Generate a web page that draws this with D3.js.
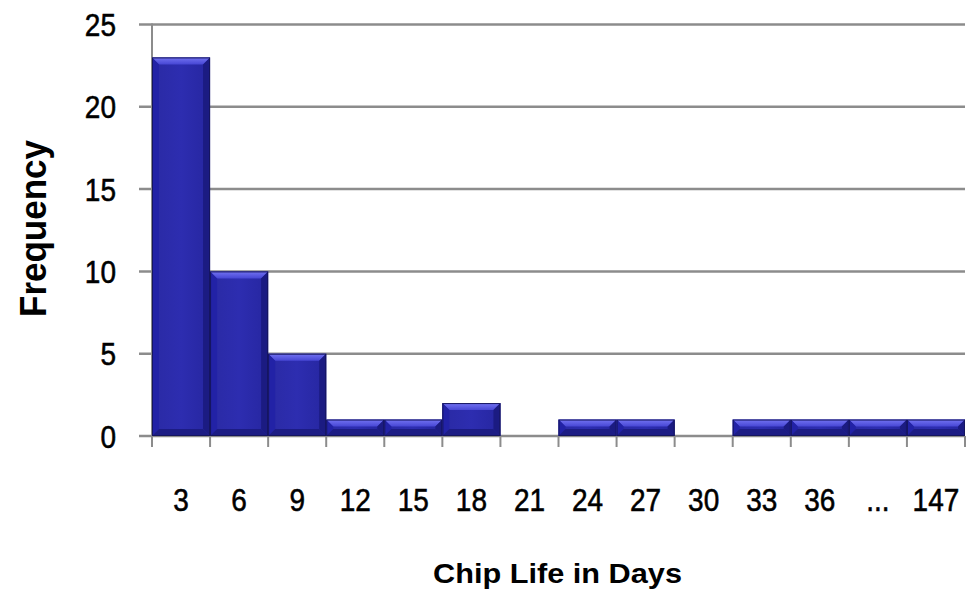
<!DOCTYPE html>
<html><head><meta charset="utf-8">
<script src="https://cdn.jsdelivr.net/npm/d3@7"></script>
<style>body{margin:0;background:#fff}svg{display:block}</style>
</head><body>
<svg id="c" width="969" height="593"></svg>
<script>
const categories = ["3","6","9","12","15","18","21","24","27","30","33","36","...","147"];
const frequency = [23,10,5,1,1,2,0,1,1,0,1,1,1,1];
const yTicks = [0,5,10,15,20,25];

const svg = d3.select("#c");
const m = {l:152, r:965, t:24.5, b:436};
const x = d3.scaleBand().domain(categories).range([m.l, m.r]).padding(0);
const y = d3.scaleLinear().domain([0,25]).range([m.b, m.t]);
const FONT = "Liberation Sans, Arial, sans-serif";

const defs = svg.append("defs");
const g1 = defs.append("linearGradient").attr("id","topb").attr("x1",0).attr("y1",0).attr("x2",0).attr("y2",1);
g1.append("stop").attr("offset","0%").attr("stop-color","#7474f2");
g1.append("stop").attr("offset","100%").attr("stop-color","#4646d4");
const gb = defs.append("linearGradient").attr("id","body").attr("x1",0).attr("y1",0).attr("x2",1).attr("y2",0);
gb.append("stop").attr("offset","0%").attr("stop-color","#2a2aa4");
gb.append("stop").attr("offset","50%").attr("stop-color","#2d2db0");
gb.append("stop").attr("offset","100%").attr("stop-color","#2626a0");

// gridlines
svg.append("g").selectAll("line").data(yTicks).join("line")
  .attr("x1", 139).attr("x2", m.r).attr("y1", d=>y(d)).attr("y2", d=>y(d))
  .attr("stroke","#8c8c8c").attr("stroke-width",2.5);
// y axis line
svg.append("line").attr("x1",m.l).attr("x2",m.l).attr("y1",m.t-1).attr("y2",m.b+11)
  .attr("stroke","#8c8c8c").attr("stroke-width",2);
// x ticks
const tickPos = categories.map(c=>x(c)).concat([m.r]);
svg.append("g").selectAll("line").data(tickPos.slice(1)).join("line")
  .attr("x1",d=>d).attr("x2",d=>d).attr("y1",m.b).attr("y2",m.b+11)
  .attr("stroke","#8c8c8c").attr("stroke-width",2);

// bars
const bw = x.bandwidth();
const bev = 7;
const pts = a => a.map(p=>p.join(",")).join(" ");
const bars = svg.append("g").selectAll("g").data(categories.map((c,i)=>({c,v:frequency[i]})).filter(d=>d.v>0)).join("g");
bars.each(function(d){
  const g = d3.select(this);
  const x0 = x(d.c), x1 = x0 + bw, y0 = y(d.v), y1 = y(0);
  const b = Math.min(bev, (y1-y0)/2.3);
  g.append("rect").attr("x",x0).attr("y",y0).attr("width",bw).attr("height",y1-y0).attr("fill","url(#body)");
  g.append("polygon").attr("points",pts([[x0,y0],[x1,y0],[x1-b,y0+b],[x0+b,y0+b]])).attr("fill","url(#topb)");
  g.append("polygon").attr("points",pts([[x0,y0],[x0+b,y0+b],[x0+b,y1-b],[x0,y1]])).attr("fill","#2222a6");
  g.append("polygon").attr("points",pts([[x1,y0],[x1-b,y0+b],[x1-b,y1-b],[x1,y1]])).attr("fill","#1b1b82");
  g.append("polygon").attr("points",pts([[x0,y1],[x0+b,y1-b],[x1-b,y1-b],[x1,y1]])).attr("fill","#1c1c84");
  g.append("rect").attr("x",x0+0.5).attr("y",y0+0.5).attr("width",bw-1).attr("height",y1-y0-1)
    .attr("fill","none").attr("stroke","#15155e").attr("stroke-width",1);
});

// y tick labels
svg.append("g").selectAll("text").data(yTicks).join("text")
  .attr("transform",d=>`translate(116,${y(d)+11.5}) scale(1,1.15)`).attr("text-anchor","end")
  .attr("font-family",FONT).attr("font-size",28).attr("fill","#000")
  .attr("stroke","#000").attr("stroke-width",0.5)
  .text(d=>d);
// x tick labels
svg.append("g").selectAll("text").data(categories).join("text")
  .attr("transform",d=>`translate(${x(d)+bw/2},511) scale(1,1.15)`).attr("text-anchor","middle")
  .attr("font-family",FONT).attr("font-size",28).attr("fill","#000")
  .attr("stroke","#000").attr("stroke-width",0.5)
  .text(d=>d);
// axis titles
svg.append("text").attr("x",433).attr("y",583)
  .attr("font-family",FONT).attr("font-size",27).attr("font-weight","bold")
  .attr("textLength",249).attr("lengthAdjust","spacingAndGlyphs")
  .text("Chip Life in Days");
svg.append("text").attr("transform","translate(46,317) rotate(-90)")
  .attr("font-family",FONT).attr("font-size",36).attr("font-weight","bold")
  .attr("textLength",177).attr("lengthAdjust","spacingAndGlyphs")
  .text("Frequency");
</script>
</body></html>
